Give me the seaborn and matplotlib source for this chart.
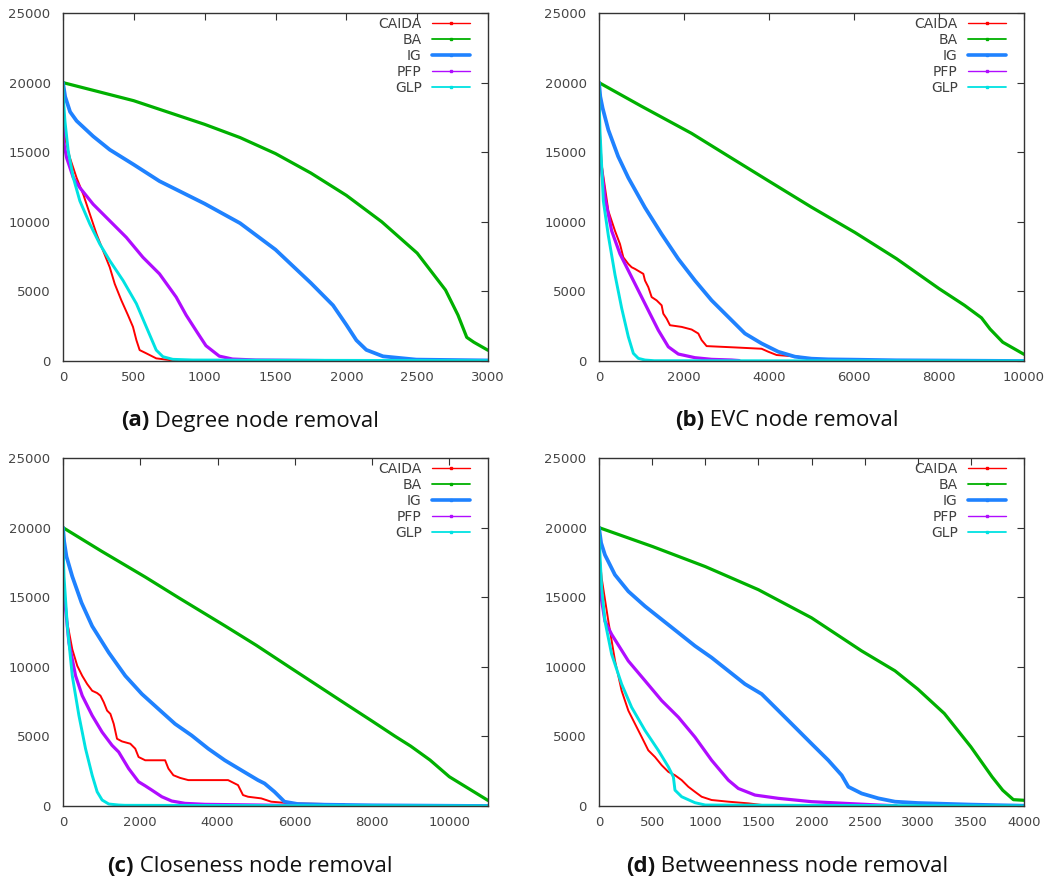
import matplotlib
matplotlib.use("Agg")
import matplotlib.pyplot as plt
from matplotlib.lines import Line2D
import seaborn as sns
import pandas as pd

# ---------------- data ----------------
MODELS = ["CAIDA", "BA", "IG", "PFP", "GLP"]

# (a) Degree node removal
A_CAIDA_X = [0, 5, 14, 49, 96, 143, 190, 237, 283, 330, 365, 412, 459, 494, 518, 541, 588, 658, 752, 845, 910]
A_CAIDA_Y = [20000, 17500, 16020, 14590, 13160, 11970, 10540, 9115, 7925, 6735, 5545, 4355, 3285, 2450, 1500, 785, 550, 190, 70, 25, 10]
A_BA_X = [0, 250, 499, 1000, 1250, 1500, 1750, 2000, 2250, 2500, 2700, 2788, 2850, 2900, 3000]
A_BA_Y = [20000, 19350, 18700, 17000, 16050, 14900, 13500, 11900, 10000, 7750, 5100, 3300, 1700, 1350, 770]
A_IG_X = [0, 15, 50, 96, 213, 330, 499, 681, 1000, 1250, 1500, 1750, 1906, 2000, 2071, 2141, 2259, 2494, 3000]
A_IG_Y = [20000, 19000, 17900, 17250, 16140, 15180, 14110, 12920, 11300, 9900, 8000, 5600, 4000, 2600, 1490, 800, 335, 100, 40]
A_PFP_X = [0, 3, 26, 73, 119, 213, 330, 447, 564, 681, 799, 869, 951, 1009, 1103, 1197, 1361, 1840]
A_PFP_Y = [18700, 15800, 14590, 13160, 12450, 11260, 10070, 8880, 7450, 6260, 4590, 3300, 2000, 1100, 350, 140, 70, 30]
A_GLP_X = [0, 5, 14, 37, 73, 119, 190, 260, 330, 424, 518, 588, 658, 705, 775, 916, 3000]
A_GLP_Y = [20000, 18500, 17200, 15070, 13160, 11500, 9830, 8400, 7210, 5780, 4120, 2450, 785, 310, 120, 70, 20]

# (b) EVC node removal
B_CAIDA_X = [0, 10, 63, 220, 376, 494, 572, 690, 768, 847, 1043, 1082, 1160, 1239, 1356, 1474, 1513, 1591, 1670,
             1944, 2180, 2336, 2415, 2532, 3199, 3826, 3983, 4179, 4688, 4923, 5237, 6500]
B_CAIDA_Y = [20000, 17000, 14110, 10780, 9350, 8400, 7450, 6970, 6735, 6615, 6260, 5780, 5310, 4590, 4355, 4000, 3400, 3045, 2570,
             2450, 2260, 1975, 1500, 1070, 975, 880, 666, 430, 310, 190, 120, 40]
B_BA_X = [0, 1000, 2180, 3000, 3983, 5000, 6021, 7000, 8000, 8600, 9000, 9200, 9500, 10000]
B_BA_Y = [20000, 18300, 16350, 14800, 12950, 11050, 9235, 7350, 5200, 4000, 3100, 2300, 1350, 480]
B_IG_X = [0, 30, 86, 220, 450, 690, 1082, 1474, 1866, 2258, 2650, 3042, 3434, 3826, 4218, 4610, 5002, 5394, 6021, 7000, 10000]
B_IG_Y = [20000, 19000, 18160, 16600, 14700, 13160, 11020, 9115, 7330, 5780, 4355, 3165, 1975, 1260, 666, 310, 167, 119, 95, 50, 0]
B_PFP_X = [0, 2, 20, 141, 298, 494, 690, 925, 1160, 1396, 1631, 1866, 2258, 2650, 3120, 3300]
B_PFP_Y = [18900, 16700, 14800, 11730, 9350, 7690, 6500, 5070, 3640, 2210, 1020, 500, 238, 119, 70, 30]
B_GLP_X = [0, 10, 24, 102, 220, 376, 533, 690, 808, 925, 1082, 1300, 10000]
B_GLP_Y = [20000, 18000, 16490, 11500, 9000, 6200, 3800, 1740, 550, 190, 70, 20, 0]

# (c) Closeness node removal
C_CAIDA_X = [0, 10, 26, 112, 240, 369, 498, 626, 755, 883, 969, 1055, 1141, 1227, 1313, 1398, 1527, 1742, 1870, 1956,
             2128, 2643, 2728, 2857, 3029, 3243, 4273, 4530, 4659, 4788, 5131, 5388, 5903, 7276, 7300, 11000]
C_CAIDA_Y = [20000, 16500, 15070, 13160, 11260, 10070, 9350, 8760, 8280, 8115, 7925, 7450, 6855, 6615, 5900, 4830, 4640, 4475, 4120, 3520,
             3285, 3285, 2690, 2210, 2020, 1860, 1860, 1500, 785, 666, 547, 310, 190, 119, 40, 30]
C_BA_X = [0, 1000, 2128, 3000, 4187, 5000, 5903, 7362, 8000, 8600, 9000, 9500, 10000, 10500, 11000]
C_BA_Y = [20000, 18300, 16450, 14950, 12950, 11550, 9900, 7250, 6100, 5000, 4300, 3300, 2100, 1250, 400]
C_IG_X = [0, 30, 90, 240, 480, 755, 1184, 1613, 2042, 2471, 2900, 3329, 3758, 4187, 4616, 5045, 5217, 5474, 5731, 6075, 6761, 8000, 11000]
C_IG_Y = [20000, 19000, 17920, 16490, 14600, 12920, 11020, 9350, 8045, 6970, 5900, 5070, 4120, 3285, 2570, 1860, 1620, 1020, 310, 143, 95, 50, 0]
C_PFP_X = [0, 3, 69, 154, 326, 498, 755, 1012, 1270, 1441, 1699, 1956, 2128, 2300, 2557, 2814, 3157, 3672, 5045, 6000]
C_PFP_Y = [18500, 16000, 14110, 11730, 9350, 7925, 6500, 5310, 4355, 3880, 2690, 1740, 1450, 1140, 666, 357, 190, 119, 70, 30]
C_GLP_X = [0, 10, 26, 112, 240, 412, 583, 755, 884, 1012, 1184, 1441, 1600, 11000]
C_GLP_Y = [20000, 18000, 16490, 12920, 9350, 6500, 4120, 2210, 1020, 430, 143, 70, 50, 0]

# (d) Betweenness node removal
D_CAIDA_X = [0, 5, 25, 88, 151, 213, 276, 339, 402, 464, 527, 590, 653, 715, 778, 841, 903, 966, 1060, 1217, 1405, 1537, 2800]
D_CAIDA_Y = [20000, 18000, 16370, 13280, 10420, 8280, 6855, 5900, 4950, 4000, 3520, 2930, 2450, 2210, 1860, 1380, 1020, 666, 430, 310, 190, 70, 10]
D_BA_X = [0, 504, 1000, 1500, 2000, 2472, 2786, 3000, 3250, 3500, 3600, 3700, 3800, 3900, 4000]
D_BA_Y = [20000, 18640, 17200, 15540, 13520, 11140, 9710, 8400, 6645, 4250, 3170, 2090, 1130, 455, 410]
D_IG_X = [0, 20, 56, 150, 276, 433, 590, 747, 903, 1060, 1217, 1374, 1531, 1688, 1845, 2001, 2158, 2284, 2347, 2472,
          2629, 2786, 3000, 3500, 3800, 4000]
D_IG_Y = [20000, 18900, 18040, 16610, 15420, 14350, 13400, 12450, 11500, 10660, 9710, 8760, 8045, 6855, 5660, 4470, 3285, 2210, 1380, 900,
          550, 310, 215, 100, 50, 20]
D_PFP_X = [0, 3, 20, 56, 119, 276, 433, 590, 747, 903, 1060, 1217, 1311, 1468, 1688, 2001, 2315, 2629, 2800]
D_PFP_Y = [19000, 17500, 15000, 13280, 12330, 10420, 9000, 7570, 6380, 4950, 3285, 1860, 1260, 785, 550, 310, 190, 70, 20]
D_GLP_X = [0, 9, 25, 56, 119, 213, 307, 433, 558, 653, 700, 715, 778, 903, 1000, 4000]
D_GLP_Y = [20000, 18040, 15660, 13280, 10900, 8760, 7090, 5430, 4000, 2810, 2090, 1140, 666, 238, 70, 0]

PANEL_LABELS = ["(a)", "(b)", "(c)", "(d)"]
PANEL_TITLES = ["Degree node removal", "EVC node removal", "Closeness node removal", "Betweenness node removal"]
X_MAX = [3000, 10000, 11000, 4000]
X_STEP = [500, 2000, 2000, 500]
Y_TICKS = [0, 5000, 10000, 15000, 20000, 25000]

# ---------------- style ----------------
COLORS = {"CAIDA": "#ff0000", "BA": "#00b000", "IG": "#1f82ff", "PFP": "#b00cff", "GLP": "#00e2e2"}
LW = {"CAIDA": 1.4, "BA": 2.3, "IG": 2.7, "PFP": 2.3, "GLP": 2.1}
LEG_LW = {"CAIDA": 1.0, "BA": 1.3, "IG": 2.6, "PFP": 1.0, "GLP": 1.3}

sns.set_style("white")
plt.rcParams["font.family"] = ["DejaVu Sans"]
plt.rcParams["xtick.direction"] = "in"
plt.rcParams["ytick.direction"] = "in"

W, H = 1051, 884
fig = plt.figure(figsize=(W / 100, H / 100), dpi=100)

panels = [
    {"CAIDA": (A_CAIDA_X, A_CAIDA_Y), "BA": (A_BA_X, A_BA_Y), "IG": (A_IG_X, A_IG_Y), "PFP": (A_PFP_X, A_PFP_Y), "GLP": (A_GLP_X, A_GLP_Y)},
    {"CAIDA": (B_CAIDA_X, B_CAIDA_Y), "BA": (B_BA_X, B_BA_Y), "IG": (B_IG_X, B_IG_Y), "PFP": (B_PFP_X, B_PFP_Y), "GLP": (B_GLP_X, B_GLP_Y)},
    {"CAIDA": (C_CAIDA_X, C_CAIDA_Y), "BA": (C_BA_X, C_BA_Y), "IG": (C_IG_X, C_IG_Y), "PFP": (C_PFP_X, C_PFP_Y), "GLP": (C_GLP_X, C_GLP_Y)},
    {"CAIDA": (D_CAIDA_X, D_CAIDA_Y), "BA": (D_BA_X, D_BA_Y), "IG": (D_IG_X, D_IG_Y), "PFP": (D_PFP_X, D_PFP_Y), "GLP": (D_GLP_X, D_GLP_Y)},
]

# axes rectangles in pixels: left, top, right, bottom
rects = [(63, 13, 488, 361), (599, 13, 1024, 361), (63, 458, 488, 806), (599, 458, 1024, 806)]
caption_pos = [(250, 421), (787, 421), (250, 867), (787, 867)]

renderer = fig.canvas.get_renderer()

for i, data in enumerate(panels):
    l, t, r, b = rects[i]
    ax = fig.add_axes([l / W, 1 - b / H, (r - l) / W, (b - t) / H])
    for m in MODELS:
        xs, ys = data[m]
        df = pd.DataFrame({"x": xs, "y": ys})
        sns.lineplot(data=df, x="x", y="y", ax=ax, color=COLORS[m], linewidth=LW[m],
                     estimator=None, sort=False, legend=False)
    ax.set_xlim(0, X_MAX[i])
    ax.set_ylim(0, 25000)
    xt = list(range(0, X_MAX[i] + 1, X_STEP[i]))
    ax.set_xticks(xt)
    ax.set_xticklabels([str(v) for v in xt])
    ax.set_yticks(Y_TICKS)
    ax.set_yticklabels([str(v) for v in Y_TICKS])
    ax.set_xlabel("")
    ax.set_ylabel("")
    ax.tick_params(axis="both", which="major", direction="in", length=5, width=0.8,
                   top=True, right=True, labelsize=9.5, labelcolor="#454545", color="#333333")
    ax.tick_params(axis="x", pad=7)
    ax.tick_params(axis="y", pad=9)
    for s in ax.spines.values():
        s.set_visible(True)
        s.set_color("#333333")
        s.set_linewidth(1.0)
    handles = [Line2D([], [], color=COLORS[m], lw=LEG_LW[m], marker="s", markersize=2.0) for m in MODELS]
    leg = ax.legend(handles, MODELS, loc="upper right", bbox_to_anchor=(1 - 18 / 425, 1 - 4 / 348), frameon=False,
                    markerfirst=False, handlelength=2.75, handletextpad=0.72, labelspacing=0.14,
                    fontsize=10, numpoints=1, borderaxespad=0.0, borderpad=0.0)
    for txt in leg.get_texts():
        txt.set_color("#404040")

    # caption: bold label + normal text, centered together
    cx, cy = caption_pos[i]
    t1 = fig.text(0, 1 - cy / H, PANEL_LABELS[i], fontsize=16, fontweight="bold", va="center", ha="left",
                  family=["Open Sans", "DejaVu Sans"], color="#111111")
    t2 = fig.text(0, 1 - cy / H, " " + PANEL_TITLES[i], fontsize=16, va="center", ha="left",
                  family=["Open Sans", "DejaVu Sans"], color="#111111")
    w1 = t1.get_window_extent(renderer).width
    w2 = t2.get_window_extent(renderer).width
    x0 = cx - (w1 + w2) / 2
    t1.set_x(x0 / W)
    t2.set_x((x0 + w1) / W)

fig.savefig("out.png", dpi=100)
